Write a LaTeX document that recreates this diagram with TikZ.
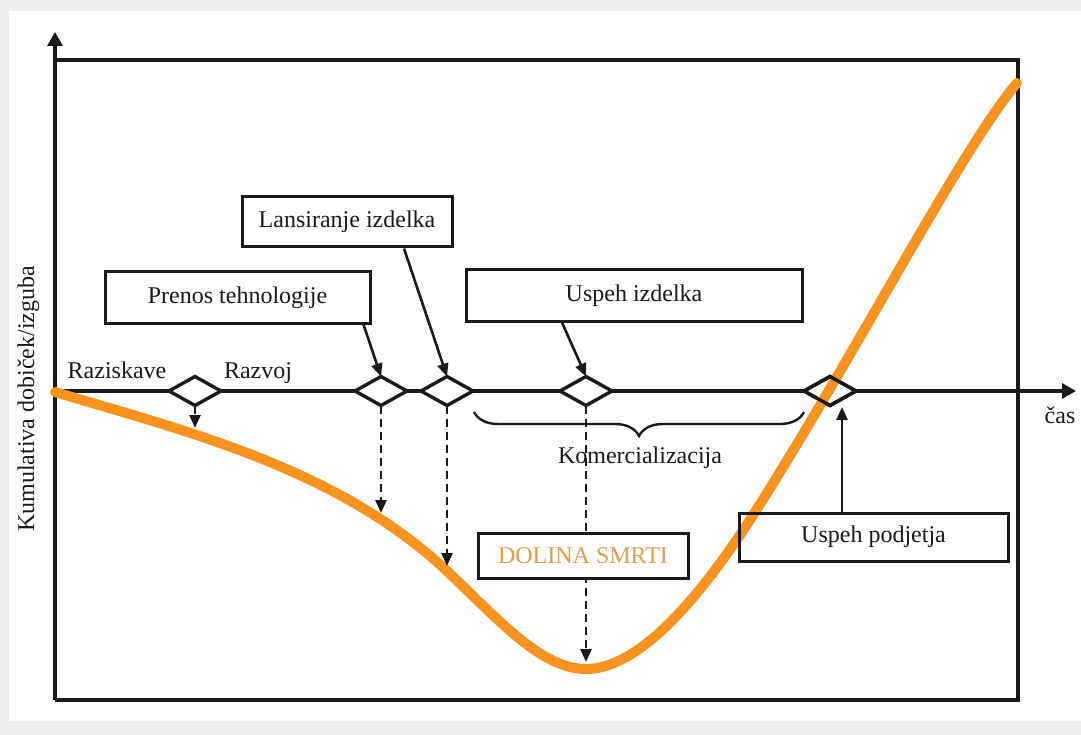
\documentclass[tikz,border=0pt]{standalone}
\usepackage{fontspec}
\setmainfont{Liberation Serif}
\usetikzlibrary{shapes.geometric,arrows.meta,decorations.pathreplacing,calc}
\definecolor{curveorange}{HTML}{F7931E}
\definecolor{dolina}{HTML}{DDA04C}
\definecolor{ink}{HTML}{1A1A1A}
\definecolor{bggray}{HTML}{EFEFEF}
\begin{document}
\begin{tikzpicture}[x=1pt,y=-1pt,
  every node/.style={font=\fontsize{24}{28}\selectfont, text=ink},
  labelbox/.style={draw=ink, line width=3pt, inner sep=0pt},
  gate/.style={diamond, draw=ink, line width=3.4pt, fill=white, minimum width=52pt, minimum height=29pt, inner sep=0pt, outer sep=0pt},
  pointer/.style={draw=ink, line width=2.6pt, -{Triangle[length=13pt,width=11pt]}},
  dropline/.style={draw=ink, line width=2.6pt, dash pattern=on 8pt off 5pt, -{Triangle[length=13pt,width=11pt]}},
  axisline/.style={draw=ink, line width=3.2pt},
]
\fill[bggray] (0,0) rectangle (1081,735);
\fill[white] (9,11) rectangle (1081,721);
\useasboundingbox (0,0) rectangle (1081,735);

% frame and axes
\draw[axisline] (55,60) -- (1018,60) -- (1018,700) -- (55,700);
\draw[axisline, -{Triangle[length=14pt,width=15pt]}] (55,700) -- (55,32);
\draw[axisline, -{Triangle[length=14pt,width=15pt]}] (55,391) -- (1076,391);

% milestones
\node[gate] (d0) at (195,391) {};
\node[gate] (d1) at (381,391) {};
\node[gate] (d2) at (447,391) {};
\node[gate] (d3) at (586,391) {};
\node[gate] (d4) at (830,391) {};

% curve
\draw[curveorange, line width=10pt, line cap=round, line join=round]
  (55,392) .. controls (185,431) and (338,468) .. (448,572)
           .. controls (498,619) and (541,669) .. (586,669)
           .. controls (636,669) and (695,606) .. (755,512)
           .. controls (855,355) and (962,148) .. (1017,83);

\coordinate (e0) at (195,428);
\coordinate (e1) at (381,513);
\coordinate (e2) at (447,566);
\coordinate (e3) at (586,662);
\draw[dropline] (d0.south) -- (e0);
\draw[dropline] (d1.south) -- (e1);
\draw[dropline] (d2.south) -- (e2);
\draw[dropline] (d3.south) -- (e3);

% boxes
\node[labelbox, minimum width=265pt, minimum height=51pt] (prenos) at (237.5,297.5) {Prenos tehnologije};
\node[labelbox, minimum width=210pt, minimum height=50pt] (lans) at (347,222) {Lansiranje izdelka};
\node[labelbox, minimum width=336pt, minimum height=51pt] (uspiz) at (634,295.5) {Uspeh izdelka};
\node[labelbox, fill=white, minimum width=210pt, minimum height=45pt, text=dolina] (dolina) at (583,555.5) {DOLINA SMRTI};
\node[labelbox, minimum width=269pt, minimum height=48pt] (uspod) at (873.5,537) {Uspeh podjetja};

\draw[pointer] ([xshift=-8pt]prenos.south east) -- (d1.north);
\draw[pointer] ([xshift=57pt]lans.south) -- (d2.north);
\draw[pointer] ([xshift=-72pt]uspiz.south) -- (d3.north);
\coordinate (upt) at (842,407);
\draw[pointer] (uspod.north -| upt) -- (upt);

% labels
\node[anchor=base] (raz) at (117,378) {Raziskave};
\node[anchor=base] (razv) at (258,378) {Razvoj};
\node[anchor=base] (cas) at (1060,423) {čas};
\node[anchor=base] (kom) at (640,463) {Komercializacija};
\node[rotate=90, anchor=base] (ylab) at (34,399) {Kumulativa dobiček/izguba};

\draw[ink, line width=2.4pt, decorate, decoration={brace, amplitude=24pt, mirror}] (474,412) -- (804,412);

\draw[ink, line width=3.4pt, line join=miter] (d4.north) -- (d4.east) -- (d4.south) -- (d4.west) -- cycle;
\end{tikzpicture}
\end{document}
